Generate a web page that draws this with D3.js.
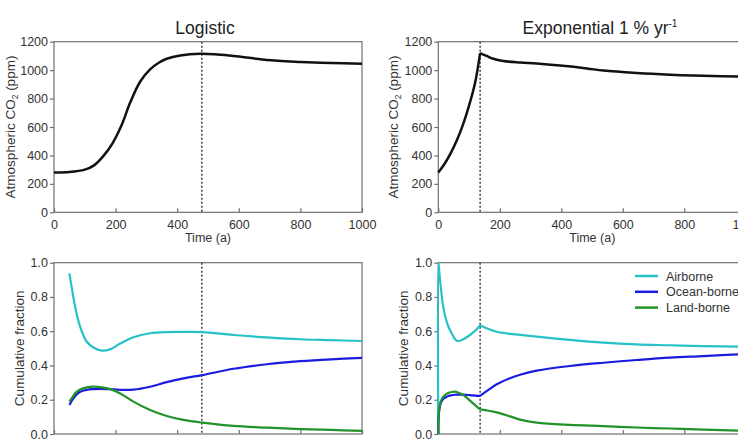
<!DOCTYPE html>
<html>
<head>
<meta charset="utf-8">
<script src="https://cdn.jsdelivr.net/npm/d3@7"></script>
<style>
  body { margin: 0; background: #fff; }
  svg { display: block; font-family: Arial, "Liberation Sans", sans-serif; }
  .axis path, .axis line { stroke: #707070; stroke-width: 1.2; }
  .axis text { fill: #333; font-size: 12.5px; }
  .frame { fill: none; stroke: #707070; stroke-width: 1.2; }
  .marker { stroke: #333; stroke-width: 1.4; stroke-dasharray: 2,2; }
  .lbl { fill: #333; font-size: 12.5px; }
  .ylbl { fill: #333; font-size: 13.5px; }
  .title { fill: #222; font-size: 17.5px; }
</style>
</head>
<body>
<div id="chart"></div>
<script>
// --- data ---
const xTicks = [0, 200, 400, 600, 800, 1000];
const co2Ticks = [0, 200, 400, 600, 800, 1000, 1200];
const fracTicks = [0, 0.2, 0.4, 0.6, 0.8, 1.0];

const logMarker = 480;
const expMarker = 136;

// logistic scenario, atmospheric CO2 (ppm)
const logT = [0, 50, 100, 130, 160, 190, 220, 247, 280, 312, 340, 366, 410, 475, 530, 583, 640, 691, 800, 900, 1000];
const logCO2 = [280, 283, 300, 330, 395, 485, 615, 770, 920, 1005, 1052, 1080, 1103, 1115, 1110, 1100, 1085, 1071, 1058, 1050, 1045];

// exponential 1 %/yr scenario, atmospheric CO2 (ppm)
const expT = [0, 20, 40, 60, 80, 100, 120, 136, 157, 179, 211, 266, 320, 396, 483, 537, 645, 754, 862, 1000];
const expCO2 = [280, 340, 415, 505, 615, 750, 915, 1120, 1100, 1080, 1064, 1053, 1046, 1032, 1012, 997, 980, 968, 960, 955];

// logistic scenario, cumulative fractions
const fracLogT = [50, 60, 70, 85, 106, 128, 155, 182, 215, 258, 312, 366, 420, 482, 583, 691, 800, 900, 1000];
const airLog   = [0.938, 0.83, 0.73, 0.626, 0.54, 0.505, 0.487, 0.494, 0.528, 0.565, 0.588, 0.595, 0.596, 0.595, 0.578, 0.564, 0.553, 0.548, 0.543];
const oceanLog = [0.169, 0.20, 0.225, 0.247, 0.258, 0.262, 0.264, 0.262, 0.258, 0.259, 0.276, 0.303, 0.325, 0.344, 0.381, 0.407, 0.425, 0.436, 0.444];
const landLog  = [0.189, 0.215, 0.24, 0.26, 0.272, 0.276, 0.272, 0.262, 0.237, 0.189, 0.14, 0.105, 0.082, 0.066, 0.047, 0.037, 0.029, 0.024, 0.018];

// exponential scenario, cumulative fractions
const fracExpT = [0, 0.5, 4, 8, 16, 25, 33, 43, 54, 62, 81, 103, 125, 136, 157, 190, 233, 266, 320, 428, 537, 645, 754, 862, 1000];
const airExp   = [0, 1.0, 0.93, 0.86, 0.743, 0.67, 0.626, 0.59, 0.555, 0.543, 0.553, 0.578, 0.611, 0.635, 0.617, 0.597, 0.585, 0.579, 0.568, 0.549, 0.533, 0.523, 0.518, 0.513, 0.510];
const oceanExp = [0, 0.08, 0.15, 0.18, 0.205, 0.215, 0.222, 0.226, 0.229, 0.23, 0.23, 0.227, 0.223, 0.222, 0.25, 0.29, 0.326, 0.346, 0.37, 0.397, 0.416, 0.432, 0.446, 0.455, 0.467];
const landExp  = [0, 0.08, 0.16, 0.19, 0.218, 0.232, 0.24, 0.245, 0.247, 0.244, 0.228, 0.195, 0.16, 0.144, 0.138, 0.126, 0.103, 0.084, 0.066, 0.053, 0.046, 0.038, 0.032, 0.026, 0.019];

const seriesNames = ["Airborne", "Ocean-borne", "Land-borne"];
const seriesColors = ["#26c2c6", "#1c1ce0", "#22922a"];

const W = 738, H = 440;
const svg = d3.select("#chart").append("svg").attr("width", W).attr("height", H);

const zip = (xs, ys) => xs.map((x, i) => [x, ys[i]]);

// split at a kink so the curve keeps the corner sharp
function pieces(pts, kink) {
    if (kink == null) return [pts];
    return [pts.filter(d => d[0] <= kink), pts.filter(d => d[0] >= kink)];
}

function panel({ left, top, width, height, yDomain, yTicks, yFmt, xLabels, marker, ylab, ylabX, xlab, lines, kink }) {
    const x = d3.scaleLinear().domain([0, 1000]).range([left, left + width]);
    const y = d3.scaleLinear().domain(yDomain).range([top + height, top]);
    const g = svg.append("g");

    g.append("rect").attr("class", "frame")
        .attr("x", left).attr("y", top).attr("width", width).attr("height", height);

    g.append("g").attr("class", "axis")
        .attr("transform", `translate(0,${top + height})`)
        .call(d3.axisBottom(x).tickValues(xTicks).tickFormat(xLabels ? d3.format("d") : "")
            .tickSizeInner(-4).tickSizeOuter(0).tickPadding(8))
        .call(s => s.select(".domain").remove());

    g.append("g").attr("class", "axis")
        .attr("transform", `translate(${left},0)`)
        .call(d3.axisLeft(y).tickValues(yTicks).tickFormat(yFmt).tickSizeInner(4).tickSizeOuter(0).tickPadding(2))
        .call(s => s.select(".domain").remove());

    g.append("line").attr("class", "marker")
        .attr("x1", x(marker)).attr("x2", x(marker))
        .attr("y1", top).attr("y2", top + height);

    const line = d3.line().x(d => x(d[0])).y(d => y(d[1])).curve(d3.curveCatmullRom.alpha(0.5));
    lines.forEach(l => {
        pieces(l.pts, kink).forEach(p => {
            g.append("path").attr("d", line(p))
                .attr("fill", "none").attr("stroke", l.color)
                .attr("stroke-width", l.width).attr("stroke-linejoin", "round");
        });
    });

    // y label
    const yl = g.append("text").attr("class", "ylbl").attr("text-anchor", "middle")
        .attr("transform", `translate(${ylabX},${top + height / 2}) rotate(-90)`);
    ylab(yl);

    if (xlab) {
        g.append("text").attr("class", "lbl").attr("text-anchor", "middle")
            .attr("x", left + 154).attr("y", top + height + 30).text(xlab);
    }
}

function co2Label(t) {
    t.append("tspan").text("Atmospheric CO");
    t.append("tspan").attr("font-size", "8.5px").attr("dy", 3).text("2");
    t.append("tspan").attr("dy", -3).text(" (ppm)");
}
function fracLabel(t) { t.text("Cumulative fraction"); }

const fmtFrac = d3.format(".1f");

panel({
    left: 54, top: 41.7, width: 308, height: 170.6,
    yDomain: [0, 1200], yTicks: co2Ticks, yFmt: d3.format("d"), xLabels: true,
    marker: logMarker, ylab: co2Label, ylabX: 15, xlab: "Time (a)",
    lines: [{ pts: zip(logT, logCO2), color: "#111", width: 2.5 }]
});

panel({
    left: 438.3, top: 41.7, width: 307.5, height: 170.6,
    yDomain: [0, 1200], yTicks: co2Ticks, yFmt: d3.format("d"), xLabels: true,
    marker: expMarker, ylab: co2Label, ylabX: 397.5, xlab: "Time (a)", kink: expMarker,
    lines: [{ pts: zip(expT, expCO2), color: "#111", width: 2.5 }]
});

panel({
    left: 54, top: 262.7, width: 308, height: 171.3,
    yDomain: [0, 1], yTicks: fracTicks, yFmt: fmtFrac, xLabels: false,
    marker: logMarker, ylab: fracLabel, ylabX: 24,
    lines: [
        { pts: zip(fracLogT, airLog), color: seriesColors[0], width: 2.2 },
        { pts: zip(fracLogT, oceanLog), color: seriesColors[1], width: 2.2 },
        { pts: zip(fracLogT, landLog), color: seriesColors[2], width: 2.2 }
    ]
});

panel({
    left: 438.3, top: 262.7, width: 307.5, height: 171.3,
    yDomain: [0, 1], yTicks: fracTicks, yFmt: fmtFrac, xLabels: false,
    marker: expMarker, ylab: fracLabel, ylabX: 408, kink: expMarker,
    lines: [
        { pts: zip(fracExpT, airExp), color: seriesColors[0], width: 2.2 },
        { pts: zip(fracExpT, oceanExp), color: seriesColors[1], width: 2.2 },
        { pts: zip(fracExpT, landExp), color: seriesColors[2], width: 2.2 }
    ]
});

// titles
svg.append("text").attr("class", "title").attr("text-anchor", "middle")
    .attr("x", 205).attr("y", 34).text("Logistic");
const t2 = svg.append("text").attr("class", "title").attr("text-anchor", "middle")
    .attr("x", 600).attr("y", 34);
t2.append("tspan").text("Exponential 1 % yr");
t2.append("tspan").attr("font-size", "10px").attr("dy", -7).text("-1");

// legend
const leg = svg.append("g");
seriesNames.forEach((name, i) => {
    const yy = 276 + i * 15.8;
    leg.append("line").attr("x1", 635).attr("x2", 658).attr("y1", yy).attr("y2", yy)
        .attr("stroke", seriesColors[i]).attr("stroke-width", 2.5);
    leg.append("text").attr("class", "lbl").attr("x", 666).attr("y", yy + 4.5).text(name);
});
</script>
</body>
</html>
